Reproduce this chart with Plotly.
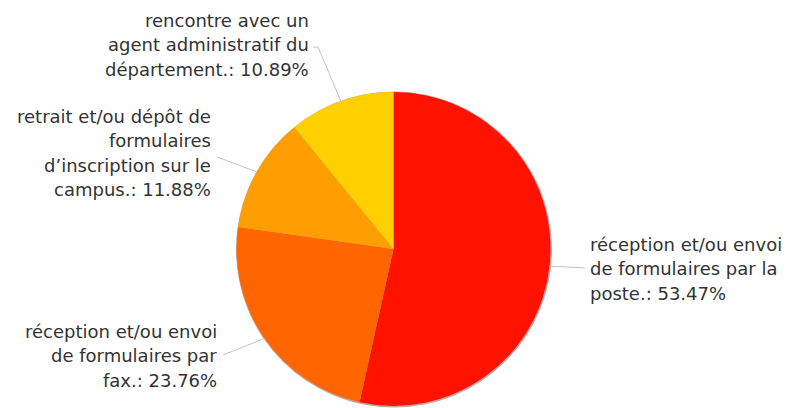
import math
import plotly.graph_objects as go

# Category names (with the line breaks used in the labels) and their shares in %
categories = [
    "réception et/ou envoi<br>de formulaires par la<br>poste.",
    "réception et/ou envoi<br>de formulaires par<br>fax.",
    "retrait et/ou dépôt de<br>formulaires<br>d’inscription sur le<br>campus.",
    "rencontre avec un<br>agent administratif du<br>département.",
]
shares = [53.47, 23.76, 11.88, 10.89]
colors = ["#FF1300", "#FF6600", "#FF9E00", "#FFD000"]

W, H = 786, 408
CX, CY, R = 393.5, 249.0, 157.0  # pie centre / radius in pixels

# label placement (pixels): anchor x, text alignment, first-line centre y,
# and the elbow points of each connector (from label towards the pie)
label_x = [588, 219, 213, 311]
label_align = ["left", "right", "right", "right"]
label_top = [244, 331, 116, 20]
line_step = 24.5
connector_end = [
    [(585, 268)],
    [(223, 355)],
    [(217, 157)],
    [(313, 47), (318, 47)],
]

FONT = dict(family="DejaVu Sans", size=18, color="#333333")


def px(x):
    return x / W


def py(y):
    return 1 - y / H


fig = go.Figure(
    go.Pie(
        labels=categories,
        values=shares,
        sort=False,
        direction="clockwise",
        rotation=0,
        marker=dict(colors=colors, line=dict(width=0)),
        textinfo="none",
        hoverinfo="label+percent",
        showlegend=False,
        domain=dict(x=[px(CX - R), px(CX + R)], y=[py(CY + R), py(CY - R)]),
    )
)

shapes = [
    # soft shadow under the pie
    dict(
        type="circle", xref="paper", yref="paper", layer="below",
        x0=px(CX - R - 0.5), x1=px(CX + R + 1.5),
        y0=py(CY + R + 1.5), y1=py(CY - R - 0.5),
        fillcolor="rgba(90,0,0,0.35)", line=dict(width=0),
    )
]
annotations = []

total = sum(shares)
start = 0.0
for i, (name, val) in enumerate(zip(categories, shares)):
    frac = val / total
    mid = (start + frac / 2) * 2 * math.pi
    start += frac
    # point on the rim at the middle of the slice
    ex = CX + R * math.sin(mid)
    ey = CY - R * math.cos(mid)
    pts = [(ex, ey)] + list(reversed(connector_end[i]))
    path = "M " + " L ".join(f"{px(x):.5f},{py(y):.5f}" for x, y in pts)
    shapes.append(dict(type="path", xref="paper", yref="paper", path=path,
                       line=dict(color="#c4c4c4", width=1)))

    lines = name.split("<br>")
    lines[-1] = lines[-1] + f": {val:.2f}%"
    for k, txt in enumerate(lines):
        annotations.append(dict(
            text=txt, xref="paper", yref="paper",
            x=px(label_x[i]), y=py(label_top[i] + k * line_step),
            xanchor=label_align[i], yanchor="middle",
            showarrow=False, font=FONT,
        ))

fig.update_layout(
    width=W, height=H,
    margin=dict(l=0, r=0, t=0, b=0),
    paper_bgcolor="white",
    plot_bgcolor="white",
    shapes=shapes,
    annotations=annotations,
)

fig.write_html("out.html")
